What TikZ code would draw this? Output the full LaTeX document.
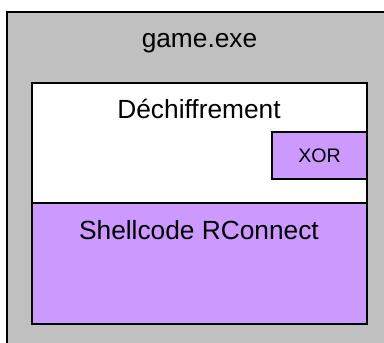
\documentclass[tikz,border=0pt]{standalone}
\usepackage{fontspec}
\setmainfont{Liberation Sans}
\definecolor{shellgrey}{HTML}{C0C0C0}
\definecolor{shellviolet}{HTML}{CC99FF}
\tikzset{
  box/.style={draw=black, line width=1.8pt, rectangle, inner sep=0pt},
  bigtext/.style={font=\fontsize{26.3pt}{30pt}\selectfont, anchor=base, inner sep=0pt},
  smalltext/.style={font=\fontsize{19.6pt}{23pt}\selectfont, anchor=base, inner sep=0pt}
}
\begin{document}
\begin{tikzpicture}[x=1pt, y=-1pt]
  \useasboundingbox (0,0) rectangle (384,343);
  \clip (0,0) rectangle (384,343);
  % process frame
  \draw[fill=shellgrey, draw=black, line width=1.5pt] (7,12) rectangle (392,362);
  % decryption stub and payload
  \node[box, fill=white, minimum width=335pt, minimum height=120pt] (stub) at (199.5,143) {};
  \node[box, fill=shellviolet, minimum width=335pt, minimum height=121pt] (payload) at (199.5,263.5) {};
  \node[box, fill=shellviolet, minimum width=95pt, minimum height=47pt] (xor) at (319.5,155.5) {};
  % labels
  \node[bigtext] (exe) at (199.5,47) {game.exe};
  \node[bigtext] (dec) at (199,118) {Déchiffrement};
  \node[bigtext] (shell) at (199,239) {Shellcode RConnect};
  \node[smalltext] (xortext) at (319.5,162) {XOR};
\end{tikzpicture}
\end{document}
